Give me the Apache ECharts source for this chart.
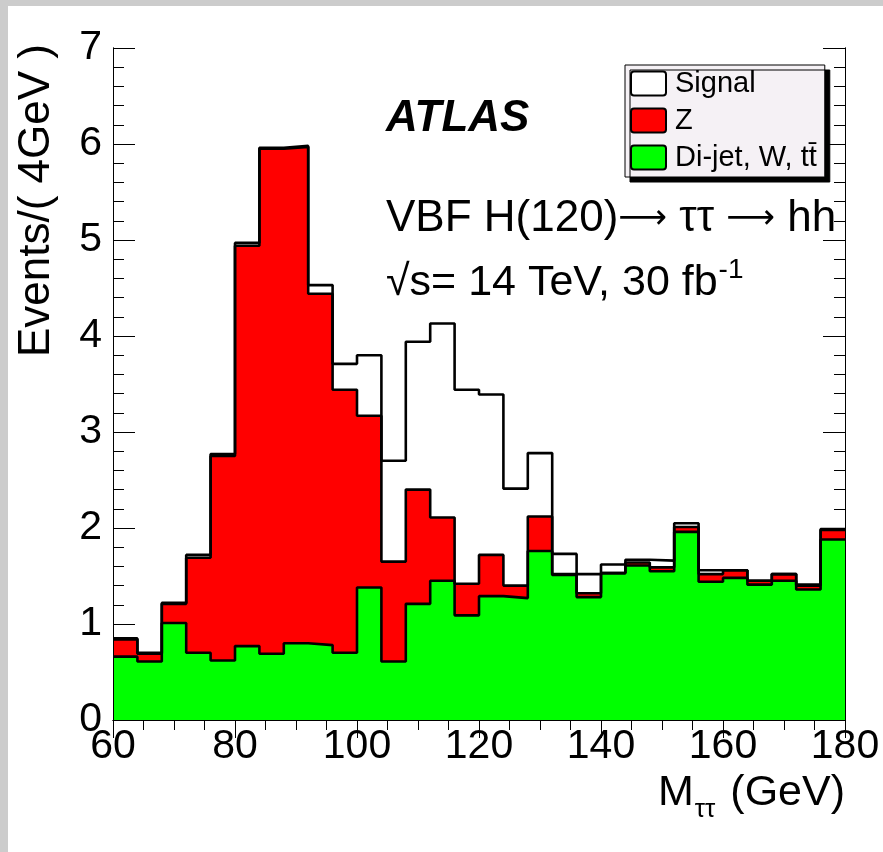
<!DOCTYPE html>
<html>
<head>
<meta charset="utf-8">
<script src="https://cdn.jsdelivr.net/npm/echarts@6/dist/echarts.min.js"></script>
<style>
html,body{margin:0;padding:0;background:#fff;}
#chart{width:883px;height:852px;}
</style>
</head>
<body>
<div id="chart"></div>
<script>
// ---- data ----
const binEdges = [60,64,68,72,76,80,84,88,92,96,100,104,108,112,116,120,124,128,132,136,140,144,148,152,156,160,164,168,172,176,180];
// Di-jet, W, ttbar background (green)
const diJetWtt = [0.66,0.61,1.01,0.70,0.62,0.77,0.69,0.80,0.78,0.70,1.38,0.61,1.21,1.45,1.09,1.29,1.27,1.76,1.51,1.28,1.53,1.61,1.55,1.96,1.44,1.48,1.41,1.45,1.36,1.88];
// Z background (red), stacked on top of the green one
const zBkg = [0.18,0.08,0.20,0.99,2.13,4.17,5.26,5.17,3.66,2.74,1.79,1.04,1.19,0.66,0.33,0.43,0.13,0.36,0.01,0.04,0.00,0.03,0.04,0.05,0.08,0.08,0.04,0.07,0.04,0.10];
// VBF H(120) signal (white), stacked on top
const signal = [0.01,0.01,0.01,0.03,0.02,0.03,0.01,0.01,0.09,0.27,0.63,1.05,1.54,2.02,2.02,1.67,1.01,0.66,0.21,0.20,0.09,0.03,0.07,0.04,0.04,0.00,0.00,0.00,0.01,0.01];
const xTickLabels = [60,80,100,120,140,160,180];
const yTickLabels = [0,1,2,3,4,5,6,7];
const seriesNames = ['Signal','Z','Di-jet, W, t\u0074\u0304'];

// ---- build ----
const FONT = '"Liberation Sans", Arial, Helvetica, sans-serif';
const cumBg = diJetWtt.slice();
const cumZ = diJetWtt.map((v,i)=>v + zBkg[i]);
const cumTot = cumZ.map((v,i)=>v + signal[i]);
function stepData(vals){
  const d = vals.map((v,i)=>[binEdges[i], v]);
  d.push([binEdges[binEdges.length-1], vals[vals.length-1]]);
  return d;
}
function layer(name, vals, fill){
  return {
    name: name, type:'line', step:'end', data: stepData(vals),
    xAxisIndex:0, yAxisIndex:0, symbol:'none', silent:true, animation:false,
    color: fill,
    lineStyle:{color:'#000', width:2.6},
    areaStyle:{color: fill, opacity:1}
  };
}

const measureCtx = document.createElement('canvas').getContext('2d');
function textW(str, size, family){
  measureCtx.font = size + 'px ' + (family||FONT);
  return measureCtx.measureText(str).width;
}

const gridL = 113, gridT = 48, gridR = 38, gridB = 132;
const xMin = xTickLabels[0], xMax = xTickLabels[xTickLabels.length-1];
const yMin = yTickLabels[0], yMax = yTickLabels[yTickLabels.length-1];

const commonX = {type:'value', min:xMin, max:xMax, interval:20, splitLine:{show:false}};
const commonY = {type:'value', min:yMin, max:yMax, interval:1, splitLine:{show:false}};
const lineStyleAx = {color:'#000', width:1};

const sqrtText = '\u221As= 14 TeV, 30 fb';
const sqrtW = textW(sqrtText, 43);
const geVText = '(GeV)';
const titleSize = 43;
const geVW = textW(geVText, titleSize);
const tauW = textW('\u03c4\u03c4', 26);
const ARROW_FONT = 'DejaVu Sans';

const option = {
  backgroundColor:'#fff',
  animation:false,
  grid:{left:gridL, top:gridT, right:gridR, bottom:gridB, containLabel:false},
  xAxis:[
    Object.assign({}, commonX, {position:'bottom', z:10,
      axisLine:{show:true, onZero:false, lineStyle:lineStyleAx},
      axisTick:{show:false}, minorTick:{show:false},
      axisLabel:{show:true, margin:6, fontSize:41, fontFamily:FONT, color:'#000',
        formatter:(v)=> xTickLabels.indexOf(v)>=0 ? String(v) : ''}}),
    Object.assign({}, commonX, {position:'top', z:0,
      axisLine:{show:true, lineStyle:lineStyleAx},
      axisTick:{show:true, inside:true, length:18, lineStyle:lineStyleAx},
      minorTick:{show:true, splitNumber:4, length:10, lineStyle:lineStyleAx},
      axisLabel:{show:false}})
  ],
  yAxis:[
    Object.assign({}, commonY, {position:'left', z:0,
      axisLine:{show:true, onZero:false, lineStyle:lineStyleAx},
      axisTick:{show:true, inside:true, length:22, lineStyle:lineStyleAx},
      minorTick:{show:true, splitNumber:5, length:11, lineStyle:lineStyleAx},
      axisLabel:{show:true, margin:11, fontSize:41, fontFamily:FONT, color:'#000',
        formatter:(v)=> yTickLabels.indexOf(v)>=0 ? String(v) : ''}}),
    Object.assign({}, commonY, {position:'right', z:0,
      axisLine:{show:true, onZero:false, lineStyle:lineStyleAx},
      axisTick:{show:true, inside:true, length:22, lineStyle:lineStyleAx},
      minorTick:{show:true, splitNumber:5, length:11, lineStyle:lineStyleAx},
      axisLabel:{show:false}}),
    Object.assign({}, commonY, {position:'left', z:10, offset:0,
      axisLine:{show:true, onZero:false, lineStyle:lineStyleAx},
      axisTick:{show:false}, minorTick:{show:false}, axisLabel:{show:false}}),
    Object.assign({}, commonY, {position:'right', z:10, offset:0,
      axisLine:{show:true, onZero:false, lineStyle:lineStyleAx},
      axisTick:{show:false}, minorTick:{show:false}, axisLabel:{show:false}})
  ],
  legend:{
    show:true, orient:'vertical', left:625, top:65, selectedMode:false,
    itemWidth:35, itemHeight:24, itemGap:8, padding:[4,8,5,5],
    backgroundColor:'#f5f1f5', borderColor:'#000', borderWidth:1,
    shadowColor:'#000', shadowBlur:0, shadowOffsetX:5, shadowOffsetY:5,
    textStyle:{fontSize:29, lineHeight:29, fontFamily:FONT, color:'#000', padding:[0,0,0,4]},
    data:[
      {name:seriesNames[0], icon:'path://M3,0 H32 Q35,0 35,3 V21 Q35,24 32,24 H3 Q0,24 0,21 V3 Q0,0 3,0 Z', itemStyle:{color:'#ffffff', borderColor:'#000', borderWidth:2}},
      {name:seriesNames[1], icon:'path://M3,0 H32 Q35,0 35,3 V21 Q35,24 32,24 H3 Q0,24 0,21 V3 Q0,0 3,0 Z', itemStyle:{color:'#ff0000', borderColor:'#000', borderWidth:2}},
      {name:seriesNames[2], icon:'path://M3,0 H32 Q35,0 35,3 V21 Q35,24 32,24 H3 Q0,24 0,21 V3 Q0,0 3,0 Z', itemStyle:{color:'#00ff00', borderColor:'#000', borderWidth:2}}
    ]
  },
  series:[
    layer(seriesNames[0], cumTot, '#ffffff'),
    layer(seriesNames[1], cumZ, '#ff0000'),
    layer(seriesNames[2], cumBg, '#00ff00')
  ],
  graphic:[
    {type:'rect', left:0, top:0, shape:{width:8, height:852}, style:{fill:'#cccccc'}, silent:true},
    {type:'rect', left:0, top:0, shape:{width:883, height:6}, style:{fill:'#cccccc'}, silent:true},
    {type:'text', x:386, y:119, silent:true, style:{text:'ATLAS', font:'italic bold 44px '+FONT, fill:'#000', verticalAlign:'middle', align:'left'}},
    {type:'text', x:386, y:219, silent:true, style:{
      text:'{a|VBF H(120)}{r|\u27f6}{a| }{a|\u03c4\u03c4}{a| }{r|\u27f6}{a| hh}',
      fill:'#000', verticalAlign:'middle', align:'left',
      rich:{
        a:{fontSize:44, fontFamily:FONT, fill:'#000'},
        r:{fontSize:34, fontFamily:ARROW_FONT, fill:'#000'}
      }}},
    {type:'text', x:386, y:283, silent:true, style:{text:sqrtText, font:'43px '+FONT, fill:'#000', verticalAlign:'middle', align:'left'}},
    {type:'text', x:386+sqrtW+1, y:270, silent:true, style:{text:'-1', font:'28px '+FONT, fill:'#000', verticalAlign:'middle', align:'left'}},
    {type:'text', x:37, y:44, rotation:Math.PI/2, silent:true, style:{text:'Events/( 4GeV )', font:'44px '+FONT, fill:'#000', verticalAlign:'middle', align:'right'}},
    {type:'text', x:845, y:793, silent:true, style:{text:geVText, font:titleSize+'px '+FONT, fill:'#000', verticalAlign:'middle', align:'right'}},
    {type:'text', x:845 - geVW - 15, y:810, silent:true, style:{text:'\u03c4\u03c4', font:'26px '+FONT, fill:'#000', verticalAlign:'middle', align:'right'}},
    {type:'text', x:845 - geVW - 15 - tauW - 1, y:793, silent:true, style:{text:'M', font:titleSize+'px '+FONT, fill:'#000', verticalAlign:'middle', align:'right'}}
  ]
};
const chart = echarts.init(document.getElementById('chart'), null, {renderer:'canvas', width:883, height:852});
chart.setOption(option);
</script>
</body>
</html>
